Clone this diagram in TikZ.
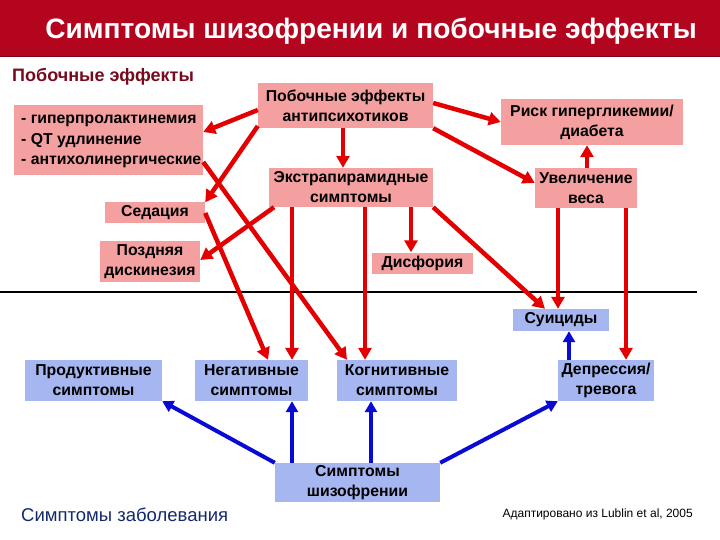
\documentclass[tikz,border=0pt]{standalone}
\usepackage{fontspec}
\setmainfont{Liberation Sans}
\usetikzlibrary{arrows.meta}
\definecolor{barred}{RGB}{180,5,30}
\definecolor{pinkc}{RGB}{245,160,160}
\definecolor{bluec}{RGB}{165,182,240}
\definecolor{arrred}{RGB}{228,0,0}
\definecolor{arrblue}{RGB}{10,10,215}
\definecolor{maroon}{RGB}{120,10,30}
\definecolor{dkblue}{RGB}{20,40,110}
\tikzset{
  boxtxt/.style={font=\bfseries\fontsize{15.8}{20}\selectfont, align=center, inner sep=0pt, text=black},
  pbox/.style={boxtxt, fill=pinkc},
  bbox/.style={boxtxt, fill=bluec},
  redarr/.style={draw=arrred, line width=4.5pt, -{Triangle[length=12pt,width=13pt]}},
  bluearr/.style={draw=arrblue, line width=4pt, -{Triangle[length=11pt,width=12pt]}},
}
\begin{document}
\begin{tikzpicture}[x=1pt,y=-1pt]
\useasboundingbox (0,0) rectangle (720,540);
% title bar
\fill[barred] (0,0) rectangle (720,57);
\draw[barred!70!black, line width=1pt] (0,57) -- (720,57);
\node[text=white, font=\bfseries\fontsize{28.1}{33}\selectfont] (title) at (371,31) {Симптомы шизофрении и побочные эффекты};
\node[anchor=west, text=maroon, font=\bfseries\fontsize{18}{21}\selectfont, inner sep=0pt] (head) at (12,77) {Побочные эффекты};

% pink boxes
\node[pbox, minimum width=189pt, minimum height=70pt] (list) at (108.5,140) {};
\node[boxtxt, anchor=west, align=left, font=\bfseries\fontsize{15.8}{21}\selectfont] (listtxt) at (21,141)
  {- гиперпролактинемия\\ - QT удлинение\\[-1pt] - антихолинергические};
\node[pbox, minimum width=100pt, minimum height=21pt] (sed) at (155,213) {Седация};
\node[pbox, minimum width=100pt, minimum height=41pt] (pozd) at (150,261.5) {Поздняя\\дискинезия};
\node[pbox, minimum width=175pt, minimum height=45pt] (pea) at (345.5,105.5) {Побочные эффекты\\антипсихотиков};
\node[pbox, minimum width=164pt, minimum height=39pt] (extra) at (351,187.5) {Экстрапирамидные\\симптомы};
\node[pbox, minimum width=101pt, minimum height=21pt] (disf) at (422.5,263) {Дисфория};
\node[pbox, minimum width=182pt, minimum height=46pt] (risk) at (592,122) {Риск гипергликемии/\\диабета};
\node[pbox, minimum width=102pt, minimum height=40pt] (uvel) at (586,188) {Увеличение\\веса};

% blue boxes
\node[bbox, minimum width=96pt, minimum height=22pt] (suic) at (561,320) {Суициды};
\node[bbox, minimum width=137pt, minimum height=41pt] (prod) at (93.5,380.5) {Продуктивные\\симптомы};
\node[bbox, minimum width=113pt, minimum height=41pt] (neg) at (251.5,380.5) {Негативные\\симптомы};
\node[bbox, minimum width=120pt, minimum height=41pt] (cogn) at (397,380.5) {Когнитивные\\симптомы};
\node[bbox, minimum width=96pt, minimum height=41pt] (depr) at (606,380.5) {Депрессия/\\тревога};
\node[bbox, minimum width=165pt, minimum height=39pt] (schiz) at (357.5,482.5) {Симптомы\\шизофрении};

% horizontal rule
\coordinate (rl) at (0,292);
\coordinate (rr) at (697,292);
\draw[black, line width=1.6pt] (rl) -- (rr);

% red arrows
\draw[redarr] (pea.west |- 0,110) -- (list.east |- 0,132);
\draw[redarr] (pea.west |- 0,126) -- (sed.north east);
\draw[redarr] (pea.east |- 0,103) -- (risk.west |- 0,122);
\draw[redarr] (pea.south east) -- (uvel.west |- 0,183);
\draw[redarr] (pea.south -| 343,0) -- (extra.north -| 343,0);
\draw[redarr] (extra.south -| 274,0) -- (pozd.east |- 0,260);
\draw[redarr] (extra.south -| 292,0) -- (neg.north -| 292,0);
\draw[redarr] (extra.south -| 365,0) -- (cogn.north -| 365,0);
\draw[redarr] (extra.south -| 411,0) -- (disf.north -| 411,0);
\draw[redarr] (extra.south east) -- (suic.north -| 545,0);
\draw[redarr] (uvel.north -| 587,0) -- (risk.south -| 587,0);
\draw[redarr] (uvel.south -| 558,0) -- (suic.north -| 558,0);
\draw[redarr] (uvel.south -| 626,0) -- (depr.north -| 626,0);
\draw[redarr] (list.east |- 0,162) -- (cogn.north -| 347,0);
\draw[redarr] (sed.east) -- (neg.north -| 268,0);

% blue arrows
\draw[bluearr] (schiz.north west) -- (prod.south east);
\draw[bluearr] (schiz.north -| 292,0) -- (neg.south -| 292,0);
\draw[bluearr] (schiz.north -| 371,0) -- (cogn.south -| 371,0);
\draw[bluearr] (schiz.north east) -- (depr.south west);
\draw[bluearr] (depr.north -| 569,0) -- (suic.south -| 569,0);

% footer texts
\node[anchor=west, text=dkblue, font=\fontsize{18.5}{21}\selectfont, inner sep=0pt] (zab) at (21,515) {Симптомы заболевания};
\node[anchor=east, text=black, font=\fontsize{12}{14}\selectfont, inner sep=0pt] (src) at (693,514) {Адаптировано из Lublin et al, 2005};
\end{tikzpicture}
\end{document}
